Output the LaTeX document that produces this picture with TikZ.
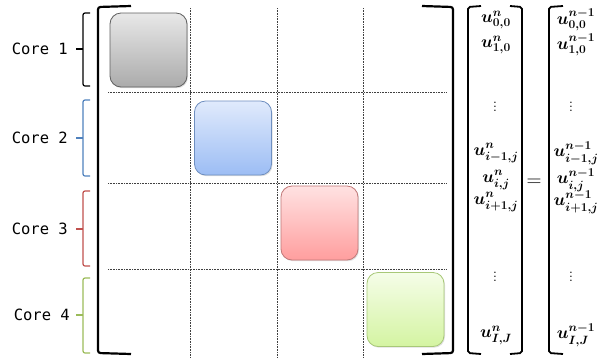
\documentclass[tikz,border=0pt]{standalone}
\usepackage{amsmath,amssymb,bm}
\usepackage{fontspec}
\usepackage{tikz}
\usetikzlibrary{shadows}
\newfontfamily\coremono{DejaVu Sans Mono}
\definecolor{cCinza}{HTML}{5F5F5F}
\definecolor{cAzul}{HTML}{4F81BD}
\definecolor{cVerm}{HTML}{C0504D}
\definecolor{cVerd}{HTML}{9BBB59}
\definecolor{cBordaAz}{HTML}{6F8FC0}
\definecolor{cBordaVm}{HTML}{C07878}
\definecolor{cBordaVd}{HTML}{A8C878}
\definecolor{cAzTop}{HTML}{E0EAFC}
\definecolor{cAzBot}{HTML}{9CBDF4}
\definecolor{cVmTop}{HTML}{FFE2E2}
\definecolor{cVmBot}{HTML}{FF9E9E}
\definecolor{cVdTop}{HTML}{F5FDE8}
\definecolor{cVdBot}{HTML}{D4F4A2}
\definecolor{cCzTop}{HTML}{E8E8E8}
\definecolor{cCzBot}{HTML}{ABABAB}

\begin{document}
\begin{tikzpicture}[
  x=1pt,y=1pt,
  blc/.style={rounded corners=11pt,minimum width=77pt,minimum height=74pt,line width=0.8pt,
              drop shadow={shadow xshift=1pt,shadow yshift=-1.2pt,opacity=0.25}},
  blcCz/.style={blc,draw=cCinza,top color=cCzTop,bottom color=cCzBot},
  blcAz/.style={blc,draw=cBordaAz,top color=cAzTop,bottom color=cAzBot},
  blcVm/.style={blc,draw=cBordaVm,top color=cVmTop,bottom color=cVmBot},
  blcVd/.style={blc,draw=cBordaVd,top color=cVdTop,bottom color=cVdBot},
  grd/.style={densely dotted,draw=black!75,line width=0.6pt},
  brk/.style={line width=2.2pt,rounded corners=2.5pt},
  vbrk/.style={line width=1.8pt,rounded corners=2pt},
  chv/.style={line width=1.2pt,rounded corners=2pt},
  lblcore/.style={font=\coremono\fontsize{15.5}{17}\selectfont,anchor=east,inner sep=0pt},
  ent/.style={font=\LARGE,inner sep=0pt}
]
\useasboundingbox (0,0) rectangle (598,-360);

% ---- grade pontilhada
\foreach \x in {190,277,363} \draw[grd] (\x,-8) -- (\x,-357);
\foreach \y in {92,183,269} \draw[grd] (108,-\y) -- (447,-\y);

% ---- blocos por core
\node[blcCz] (k1) at (148.5,-50)   {};
\node[blcAz] (k2) at (233,-138)    {};
\node[blcVm] (k3) at (319.5,-223)  {};
\node[blcVd] (k4) at (405.5,-309.5) {};

% ---- colchetes da matriz
\draw[brk] (131,-6) -- (98,-7) -- (98,-353) -- (131,-354);
\draw[brk] (422,-6) -- (453,-7) -- (453,-353) -- (422,-354);

% ---- chaves dos cores
\node[lblcore] (c1) at (68,-49)  {Core 1};
\draw[chv,black] (90,-13) -- (83,-13) -- (83,-86) -- (90,-86);
\draw[chv,black] (83,-49) -- (76,-49);
\node[lblcore] (c2) at (68,-138) {Core 2};
\draw[chv,cAzul] (90,-100) -- (83,-100) -- (83,-176) -- (90,-176);
\draw[chv,cAzul] (83,-138) -- (76,-138);
\node[lblcore] (c3) at (68,-229) {Core 3};
\draw[chv,cVerm] (90,-191) -- (83,-191) -- (83,-266) -- (90,-266);
\draw[chv,cVerm] (83,-229) -- (76,-229);
\node[lblcore] (c4) at (70,-315) {Core 4};
\draw[chv,cVerd] (90,-278) -- (83,-278) -- (83,-353) -- (90,-353);
\draw[chv,cVerd] (83,-315) -- (76,-315);

% ---- vetor u^n
\draw[vbrk] (481,-6) -- (468,-7) -- (468,-353) -- (481,-354);
\draw[vbrk] (510,-6) -- (522,-7) -- (522,-353) -- (510,-354);
\node[ent] (a1) at (496,-20)  {$\bm{u^{n}_{0,0}}$};
\node[ent] (a2) at (496,-45)  {$\bm{u^{n}_{1,0}}$};
\node[ent] (a3) at (495,-104) {$\vdots$};
\node[ent] (a4) at (496,-153) {$\bm{u^{n}_{i-1,j}}$};
\node[ent] (a5) at (496,-180) {$\bm{u^{n}_{i,j}}$};
\node[ent] (a6) at (496,-202) {$\bm{u^{n}_{i+1,j}}$};
\node[ent] (a7) at (495,-274) {$\vdots$};
\node[ent] (a8) at (496,-335) {$\bm{u^{n}_{I,J}}$};

\node[ent,font=\huge] (eq) at (534,-183) {$=$};

% ---- vetor u^{n-1}
\draw[vbrk] (563,-6) -- (549,-7) -- (549,-353) -- (563,-354);
\node[ent] (b1) at (576,-20)  {$\bm{u^{n-1}_{0,0}}$};
\node[ent] (b2) at (576,-45)  {$\bm{u^{n-1}_{1,0}}$};
\node[ent] (b3) at (571,-104) {$\vdots$};
\node[ent] (b4) at (576,-153) {$\bm{u^{n-1}_{i-1,j}}$};
\node[ent] (b5) at (576,-180) {$\bm{u^{n-1}_{i,j}}$};
\node[ent] (b6) at (576,-202) {$\bm{u^{n-1}_{i+1,j}}$};
\node[ent] (b7) at (571,-274) {$\vdots$};
\node[ent] (b8) at (576,-335) {$\bm{u^{n-1}_{I,J}}$};
\end{tikzpicture}
\end{document}
